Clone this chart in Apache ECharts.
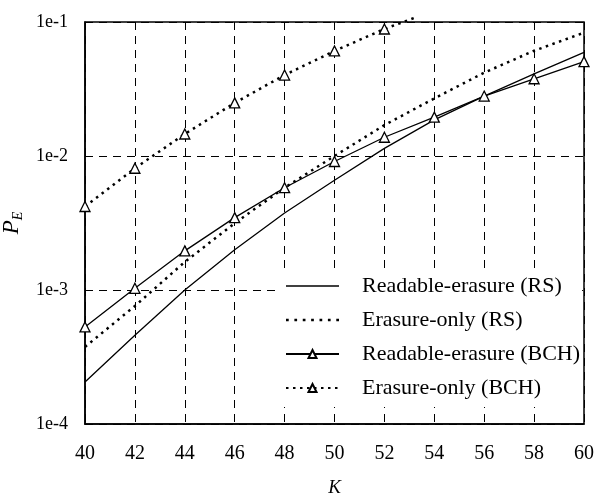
<!DOCTYPE html>
<html>
<head>
<meta charset="utf-8">
<script src="https://cdn.jsdelivr.net/npm/echarts@6/dist/echarts.min.js"></script>
<style>
html,body{margin:0;padding:0;background:#fff;}
#chart{width:595px;height:501px;}
</style>
</head>
<body>
<div id="chart"></div>
<script>
var kValues = [40, 42, 44, 46, 48, 50, 52, 54, 56, 58, 60];
var rsReadable = [2.06e-4, 4.6e-4, 1.0e-3, 2.0e-3, 3.76e-3, 6.6e-3, 1.14e-2, 1.86e-2, 2.8e-2, 4.1e-2, 5.94e-2];
var rsErasure = [3.76e-4, 7.6e-4, 1.62e-3, 3.15e-3, 5.8e-3, 1.0e-2, 1.7e-2, 2.69e-2, 4.19e-2, 6.1e-2, 8.32e-2];
var bchReadable = [5.3e-4, 1.03e-3, 1.96e-3, 3.47e-3, 5.8e-3, 9.1e-3, 1.38e-2, 1.95e-2, 2.8e-2, 3.77e-2, 5.06e-2];
var bchErasureK = [40, 42, 44, 46, 48, 50, 52, 53.3];
var bchErasure = [4.2e-3, 8.1e-3, 1.46e-2, 2.49e-2, 4.02e-2, 6.08e-2, 8.87e-2, 0.109];
var seriesNames = ['Readable-erasure (RS)', 'Erasure-only (RS)', 'Readable-erasure (BCH)', 'Erasure-only (BCH)'];

var serif = '"Liberation Serif", "DejaVu Serif", serif';

function pairs(xs, ys){
    var out = [];
    for(var i=0;i<ys.length;i++){
        out.push([xs[i], ys[i]]);
    }
    return out;
}

// last BCH erasure point runs past the frame, no marker there
var bchErasureData = pairs(bchErasureK, bchErasure);
bchErasureData[bchErasureData.length-1] = {value: bchErasureData[bchErasureData.length-1], symbol: 'none'};

// legend icons for the plain RS lines (no marker in the middle)
var solidIcon = 'path://M0,0H53V1.3H0Z';
var dotIcon = 'path://';
for(var d=0; d<7; d++){
    var x0 = d*7.7;
    dotIcon += 'M'+x0+',0h2.5v2.5h-2.5Z';
}

var dotted = [2.5, 4.5];
var triStyle = {color: '#fff', borderColor: '#000', borderWidth: 1.3};

var myChart = echarts.init(document.getElementById('chart'));
var option = {
    animation: false,
    grid: {
        left: 85, right: 11, top: 22, bottom: 77,
        containLabel: false,
        outerBoundsMode: 'none',
        show: true,
        borderColor: '#000',
        borderWidth: 1.5,
        backgroundColor: '#fff'
    },
    legend: {
        orient: 'vertical',
        left: 278,
        top: 268,
        padding: [7, 2, 8, 7],
        backgroundColor: '#fff',
        itemWidth: 53,
        itemHeight: 10,
        itemGap: 12,
        data: [
            {name: seriesNames[0], icon: solidIcon},
            {name: seriesNames[1], icon: dotIcon},
            {name: seriesNames[2]},
            {name: seriesNames[3]}
        ],
        textStyle: {fontFamily: serif, fontSize: 22, color: '#000', padding: [0, 0, 0, 18]}
    },
    xAxis: {
        type: 'value',
        min: 40, max: 60, interval: 2,
        name: 'K',
        nameLocation: 'middle',
        nameGap: 54,
        nameTextStyle: {fontFamily: serif, fontSize: 19, fontStyle: 'italic', color: '#000'},
        axisLine: {show: true, lineStyle: {color: '#000', width: 1.5}},
        axisTick: {show: false},
        axisLabel: {margin: 20, fontFamily: serif, fontSize: 20, color: '#000'},
        splitLine: {show: true, lineStyle: {color: '#000', width: 1, type: [8, 6]}}
    },
    yAxis: {
        type: 'log',
        logBase: 10,
        min: 1e-4, max: 1e-1,
        name: '{a|P}{b|E}',
        nameLocation: 'middle',
        nameGap: 57,
        nameRotate: 90,
        nameTextStyle: {
            color: '#000',
            rich: {
                a: {fontFamily: serif, fontSize: 23, fontStyle: 'italic', color: '#000'},
                b: {fontFamily: serif, fontSize: 14, fontStyle: 'italic', color: '#000', padding: [12, 0, 0, 0]}
            }
        },
        axisLine: {show: true, lineStyle: {color: '#000', width: 1.5}},
        axisTick: {show: false},
        axisLabel: {
            margin: 17, fontFamily: serif, fontSize: 18, color: '#000',
            formatter: function(v){ return '1e' + Math.round(Math.log10(v)); }
        },
        splitLine: {show: true, lineStyle: {color: '#000', width: 1, type: [8, 6]}}
    },
    series: [
        {
            name: seriesNames[0], type: 'line', data: pairs(kValues, rsReadable),
            symbol: 'none', lineStyle: {color: '#000', width: 1.3}, itemStyle: {color: '#000'}
        },
        {
            name: seriesNames[1], type: 'line', data: pairs(kValues, rsErasure),
            symbol: 'none', lineStyle: {color: '#000', width: 2.5, type: dotted}, itemStyle: {color: '#000'}
        },
        {
            name: seriesNames[2], type: 'line', data: pairs(kValues, bchReadable),
            symbol: 'triangle', symbolSize: 10, showAllSymbol: true,
            lineStyle: {color: '#000', width: 1.3}, itemStyle: triStyle, z: 3
        },
        {
            name: seriesNames[3], type: 'line', data: bchErasureData, clip: false,
            symbol: 'triangle', symbolSize: 10, showAllSymbol: true,
            lineStyle: {color: '#000', width: 2.5, type: dotted}, itemStyle: triStyle, z: 3
        }
    ]
};

if (option && typeof option === "object") {
    myChart.setOption(option, true);
}
</script>
</body>
</html>
